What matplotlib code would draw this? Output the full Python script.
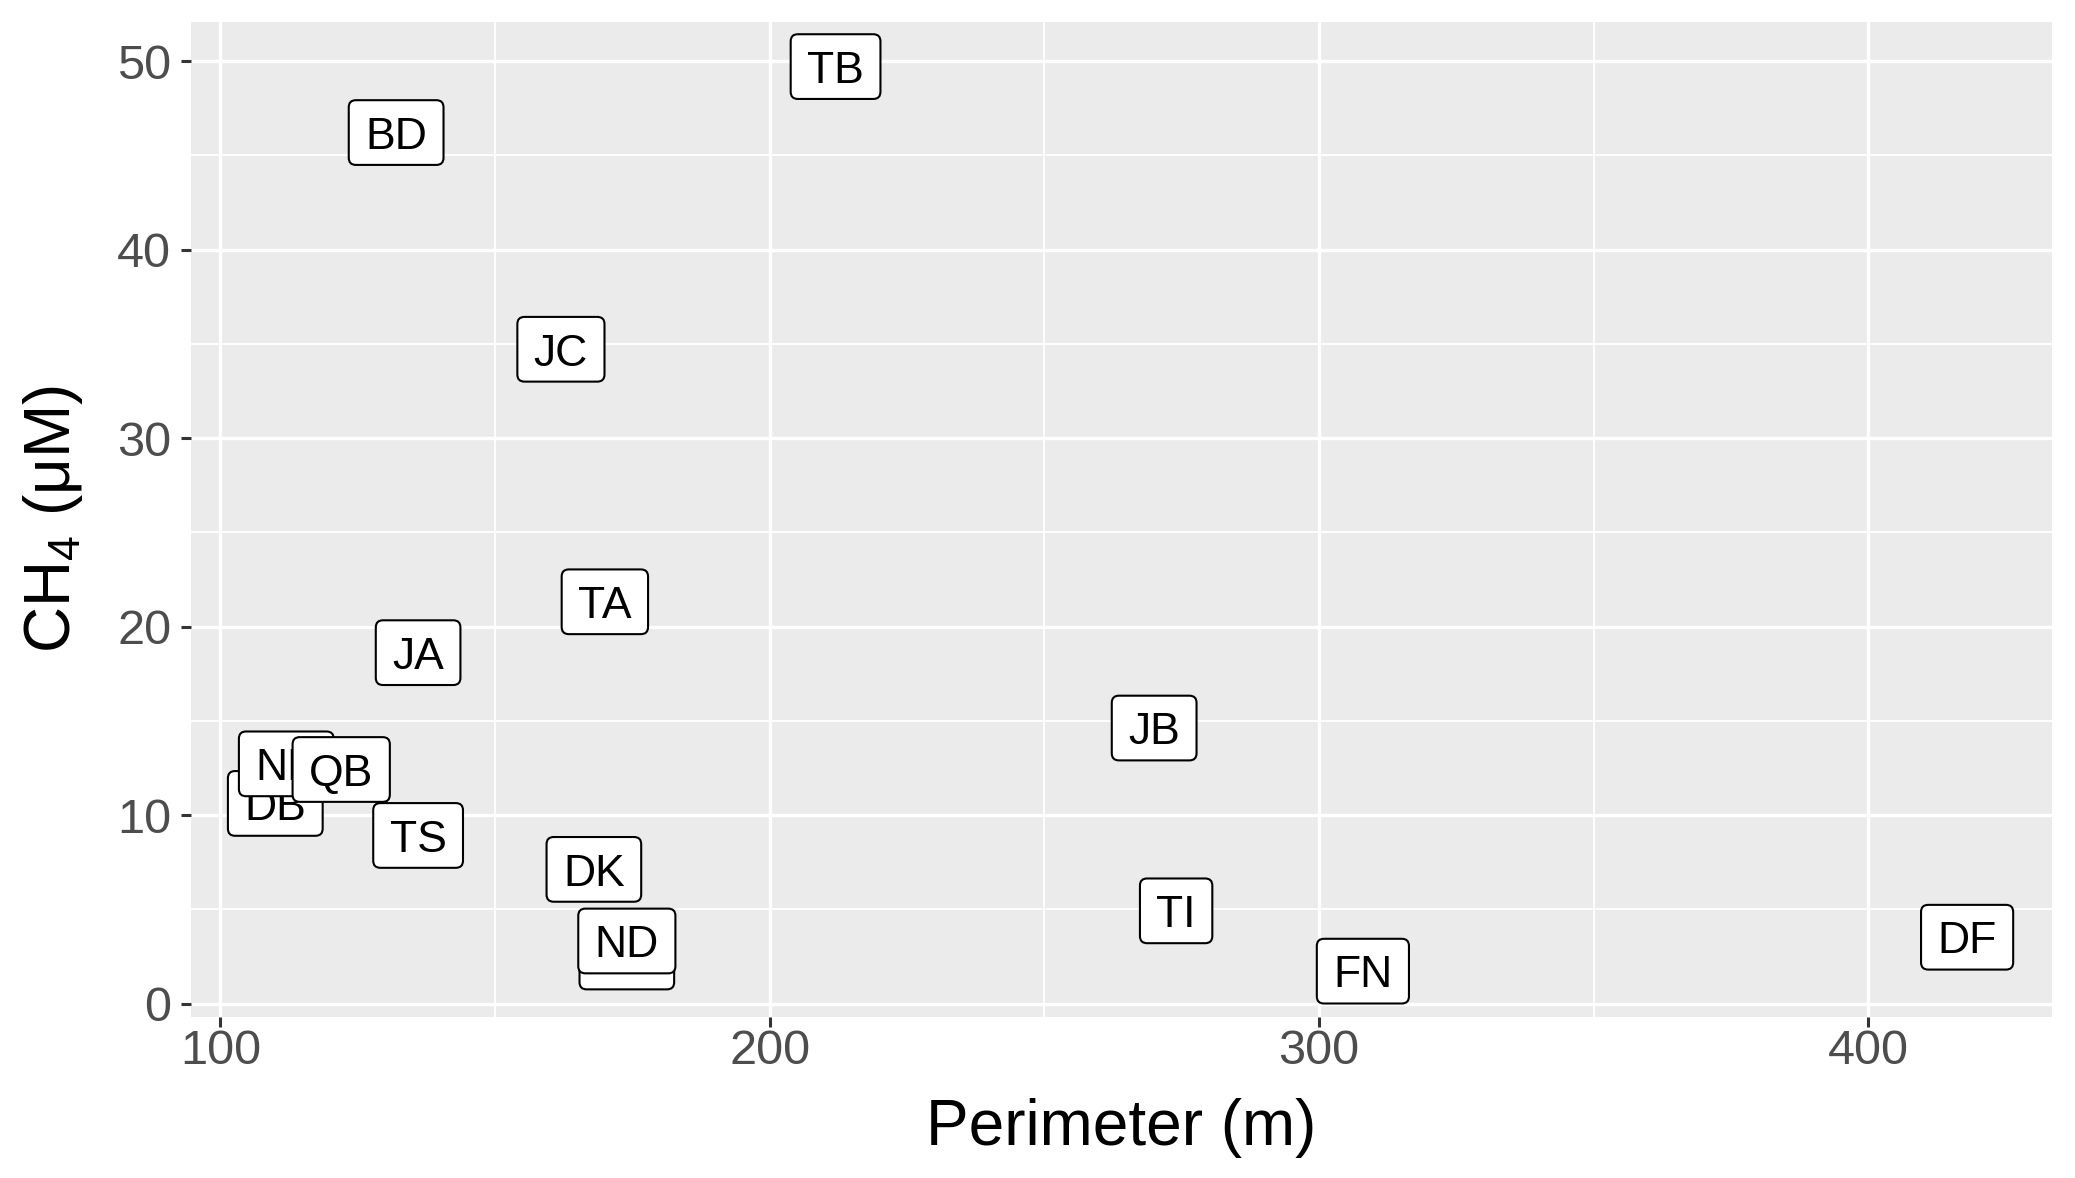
import matplotlib
matplotlib.use("Agg")
import matplotlib.pyplot as plt
from matplotlib.patches import BoxStyle
from matplotlib.transforms import offset_copy
from matplotlib.ticker import FixedLocator

# ---- data ----
sites = ["DB", "NB", "QB", "TS", "DK", "NA", "ND", "BD", "TB", "JC", "TA", "JA", "JB", "TI", "FN", "DF"]
perimeter = [110, 112, 122, 136, 168, 174, 174, 132, 212, 162, 170, 136, 270, 274, 308, 418]
ch4 = [10.6, 12.7, 12.4, 8.9, 7.1, 2.45, 3.3, 46.2, 49.7, 34.7, 21.3, 18.6, 14.6, 4.9, 1.7, 3.5]
x_ticks = [100, 200, 300, 400]
y_ticks = [0, 10, 20, 30, 40, 50]
x_title = "Perimeter (m)"
y_title = "CH$_4$ (μM)"

plt.rcParams['font.family'] = ['Liberation Sans', 'DejaVu Sans']
plt.rcParams['mathtext.fontset'] = 'custom'
plt.rcParams['mathtext.rm'] = 'Liberation Sans'
plt.rcParams['mathtext.it'] = 'Liberation Sans'
plt.rcParams['mathtext.default'] = 'regular'

W, H = 2075, 1178
fig = plt.figure(figsize=(W / 100, H / 100), dpi=100)
L, R, T, B = 190.7, 2051.7, 21.7, 1016.7
ax = fig.add_axes([L / W, 1 - B / H, (R - L) / W, (B - T) / H])
ax.set_facecolor('#EBEBEB')
for s in ax.spines.values():
    s.set_visible(False)

xmin, xmax = min(perimeter), max(perimeter)
ymin, ymax = min(ch4), max(ch4)
xr, yr = xmax - xmin, ymax - ymin
ax.set_xlim(xmin - 0.05 * xr, xmax + 0.05 * xr)
ax.set_ylim(ymin - 0.05 * yr, ymax + 0.05 * yr)

ax.xaxis.set_major_locator(FixedLocator(x_ticks))
ax.yaxis.set_major_locator(FixedLocator(y_ticks))
ax.xaxis.set_minor_locator(FixedLocator([(a + b) / 2 for a, b in zip(x_ticks[:-1], x_ticks[1:])]))
ax.yaxis.set_minor_locator(FixedLocator([(a + b) / 2 for a, b in zip(y_ticks[:-1], y_ticks[1:])]))
ax.grid(which='major', color='white', linewidth=2.4)
ax.grid(which='minor', color='white', linewidth=1.3)
ax.set_axisbelow(True)
ax.tick_params(which='minor', length=0)
ax.tick_params(which='major', length=7, width=2.2, color='#333333',
               labelsize=35, labelcolor='#4D4D4D')
ax.tick_params(axis='x', pad=2)
ax.tick_params(axis='y', pad=7)


def label_box(x0, y0, width, height, mutation_size):
    ms = mutation_size
    desc = 0.21 * ms
    cap = 0.716 * ms
    px = 0.37 * ms
    py = 0.37 * ms
    bx0 = x0 - px
    bx1 = x0 + width + px
    by0 = y0 + desc - py
    by1 = y0 + desc + cap + py
    return BoxStyle.Round(pad=0, rounding_size=0.16)(bx0, by0, bx1 - bx0, by1 - by0, ms)


fs = 32
trans = offset_copy(ax.transData, fig=fig, x=0, y=-0.358 * fs, units='points')
for i, (s, xv, yv) in enumerate(zip(sites, perimeter, ch4)):
    ax.text(xv, yv, s, transform=trans, ha='center', va='baseline', fontsize=fs,
            color='black', zorder=3 + i,
            bbox=dict(boxstyle=label_box, facecolor='white', edgecolor='black', linewidth=1.5))

fig.text((L + R) / 2 / W, 1 - 1128 / H, x_title, ha='center', va='center', fontsize=46)
fig.text(53 / W, 1 - (T + B) / 2 / H, y_title, ha='center', va='center', fontsize=46, rotation=90)

fig.savefig('out.png', dpi=100)
